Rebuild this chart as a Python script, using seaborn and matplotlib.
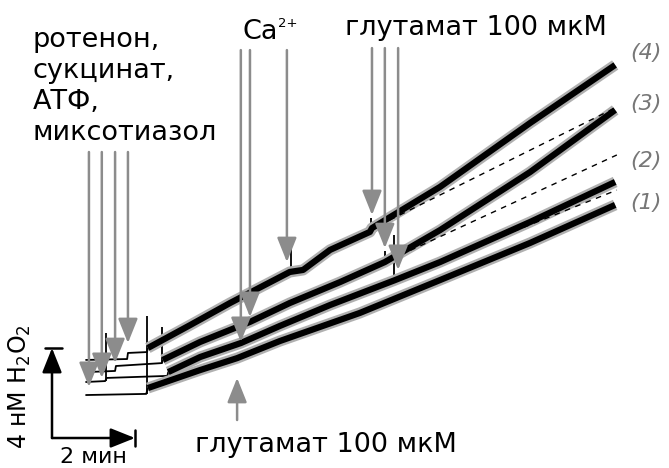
import pandas as pd
import seaborn as sns
import matplotlib.pyplot as plt

# time in min, H2O2 in nM, zero at the corner of the scale bar
# thin starting parts of the traces
t1_base = [0.82, 2.27, 2.31]
c1_base = [1.91, 1.96, 2.22]
t2_base = [0.82, 1.28, 1.32, 2.78, 2.80]
c2_base = [2.49, 2.53, 2.67, 2.76, 2.93]
t3_base = [0.82, 1.52, 1.54, 2.65, 2.67]
c3_base = [2.93, 2.98, 3.20, 3.33, 3.47]
t4_base = [0.82, 1.81, 1.83, 2.29, 2.31]
c4_base = [3.47, 3.51, 3.78, 3.82, 4.00]

# noisy recordings
t1 = [2.31, 3.57, 4.46, 5.49, 7.42, 9.35, 11.52, 13.57]
c1 = [2.22, 3.02, 3.55, 4.31, 5.56, 7.02, 8.67, 10.36]
t2 = [2.80, 3.57, 4.55, 5.49, 6.70, 8.24, 9.35, 11.52, 13.57]
c2 = [2.93, 3.60, 4.22, 4.98, 5.91, 7.00, 7.82, 9.60, 11.38]
t3 = [2.67, 3.57, 4.77, 5.73, 6.94, 8.02, 9.35, 11.52, 13.57]
c3 = [3.47, 4.27, 5.16, 6.00, 6.93, 7.82, 9.24, 11.82, 14.58]
t4 = [2.31, 3.33, 4.29, 5.73, 6.05, 6.70, 7.66, 7.71, 9.35, 11.52, 13.57]
c4 = [4.00, 5.02, 6.00, 7.38, 7.47, 8.36, 9.16, 9.33, 11.16, 14.00, 16.58]

# spikes at the additions
spike_t = [2.29, 1.30, 2.65, 5.76, 7.69, 8.24, 8.02]
spike_lo = [1.96, 2.53, 3.33, 7.40, 9.16, 7.00, 7.82]
spike_hi = [5.42, 4.67, 4.93, 8.67, 9.78, 9.02, 8.30]

# extrapolation of the rate before glutamate
dash_t = [[8.63, 13.61], [8.39, 13.61], [7.90, 13.61]]
dash_c = [[7.35, 11.02], [8.13, 12.58], [9.47, 14.71]]

# additions: x, start, tip
add_x = [0.89, 1.20, 1.52, 1.83, 4.55, 4.77, 5.66, 7.71, 8.02, 8.34, 4.46]
add_from = [12.71, 12.71, 12.71, 12.71, 17.24, 17.24, 17.24, 17.33, 17.33, 17.33, 0.80]
add_to = [2.27, 2.67, 3.33, 4.22, 4.27, 5.38, 7.82, 9.91, 8.44, 7.47, 2.67]

trace_names = ['(1)', '(2)', '(3)', '(4)']
label_c = [10.44, 12.31, 14.84, 17.11]
reagents = ['ротенон,', 'сукцинат,', 'АТФ,', 'миксотиазол']
reagent_c = [17.38, 16.0, 14.62, 13.24]

base_df = pd.concat([
    pd.DataFrame({'t': t, 'c': c, 'trace': n})
    for t, c, n in zip([t1_base, t2_base, t3_base, t4_base],
                       [c1_base, c2_base, c3_base, c4_base], trace_names)])
noisy_df = pd.concat([
    pd.DataFrame({'t': t, 'c': c, 'trace': n})
    for t, c, n in zip([t1, t2, t3, t4], [c1, c2, c3, c4], trace_names)])

sns.set_theme(style='white')
plt.rcParams['font.family'] = ['DejaVu Sans']
plt.rcParams['text.color'] = 'black'

fig = plt.figure(figsize=(6.69, 4.68), dpi=100)
ax = fig.add_axes([0, 0, 1, 1])

sns.lineplot(data=base_df, x='t', y='c', units='trace', estimator=None,
             sort=False, color='black', lw=1.3, legend=False, ax=ax)
ax.vlines(spike_t, spike_lo, spike_hi, color='black', lw=1.3)
sns.lineplot(data=noisy_df, x='t', y='c', units='trace', estimator=None,
             sort=False, color='#b0b0b0', lw=8, legend=False, ax=ax,
             solid_capstyle='butt', solid_joinstyle='round')
sns.lineplot(data=noisy_df, x='t', y='c', units='trace', estimator=None,
             sort=False, color='black', lw=4.5, legend=False, ax=ax,
             solid_capstyle='butt', solid_joinstyle='round')
for dt, dc in zip(dash_t, dash_c):
    ax.plot(dt, dc, color='black', lw=1, dashes=(4, 4))

gray = '#8c8c8c'
for x, y0, y1 in zip(add_x, add_from, add_to):
    ax.annotate('', xy=(x, y1), xytext=(x, y0),
                arrowprops=dict(arrowstyle='-|>,head_length=0.75,head_width=0.3',
                                color=gray, lw=1.8, mutation_scale=20,
                                shrinkA=0, shrinkB=0))

# scale bar
bar = dict(arrowstyle='-|>,head_length=0.75,head_width=0.3', color='black',
           lw=1.8, mutation_scale=20, shrinkA=0, shrinkB=0)
ax.annotate('', xy=(0, 4), xytext=(0, 0), arrowprops=bar)
ax.annotate('', xy=(2, 0), xytext=(0, 0), arrowprops=bar)
ax.plot([-0.17, 0.24], [4, 4], color='black', lw=1.8)
ax.plot([2, 2], [-0.36, 0.36], color='black', lw=1.8)
ax.text(0.19, -0.85, '2 мин', fontsize=16, va='center', ha='left')
ax.text(-0.77, 2.3, '4 нМ H$_2$O$_2$', fontsize=17, rotation=90,
        va='center', ha='center')

for txt, c in zip(reagents, reagent_c):
    ax.text(-0.46, c, txt, fontsize=19.5, va='baseline', ha='left')
ax.text(4.60, 17.73, 'Ca', fontsize=19.5, va='baseline', ha='left')
ax.text(5.45, 18.27, '2+', fontsize=9.5, va='baseline', ha='left')
ax.text(7.06, 17.91, 'глутамат 100 мкМ', fontsize=19.5, va='baseline', ha='left')
ax.text(3.45, -0.62, 'глутамат 100 мкМ', fontsize=19.5, va='baseline', ha='left')
for name, c in zip(trace_names, label_c):
    ax.text(13.93, c, name, fontsize=16, style='italic', color='#777777',
            va='center', ha='left')

ax.set_xlim(-1.253, 14.867)
ax.set_ylim(-1.333, 19.467)
ax.axis('off')

fig.savefig('out.png', dpi=100)
